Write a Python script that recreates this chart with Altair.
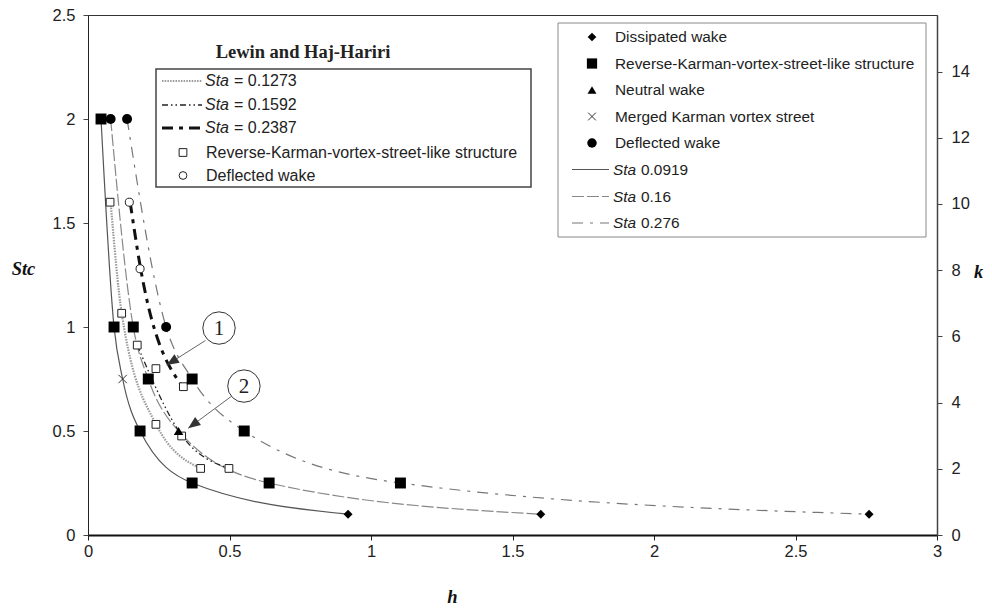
import math
import altair as alt
import pandas as pd

# ------------------------------------------------------------------ data
# Present study (filled markers): h, Stc
diss_h = [0.919, 1.600, 2.760]
diss_stc = [0.10, 0.10, 0.10]
rev_h = [0.046, 0.092, 0.160, 0.184, 0.213, 0.368, 0.368, 0.552, 0.640, 1.104]
rev_stc = [2.00, 1.00, 1.00, 0.50, 0.75, 0.25, 0.75, 0.50, 0.25, 0.25]
neu_h = [0.320]
neu_stc = [0.50]
mer_h = [0.1225]
mer_stc = [0.75]
dfl_h = [0.080, 0.138, 0.276]
dfl_stc = [2.00, 2.00, 1.00]

# Present study curves
sta1_h = [0.046, 0.092, 0.1225, 0.184, 0.368, 0.919]
sta1_stc = [2.00, 1.00, 0.75, 0.50, 0.25, 0.10]
sta2_h = [0.080, 0.160, 0.213, 0.320, 0.640, 1.600]
sta2_stc = [2.00, 1.00, 0.75, 0.50, 0.25, 0.10]
sta3_h = [0.138, 0.276, 0.368, 0.552, 1.104, 2.760]
sta3_stc = [2.00, 1.00, 0.75, 0.50, 0.25, 0.10]

# Lewin and Haj-Hariri
lw1_h = [0.080, 0.119, 0.240, 0.398]
lw1_stc = [1.60, 1.067, 0.533, 0.32]
lw2_h = [0.174, 0.331, 0.498]
lw2_stc = [0.913, 0.48, 0.32]
lw3_h = [0.149, 0.186, 0.336]
lw3_stc = [1.60, 1.28, 0.71]
lwsq_h = [0.078, 0.119, 0.174, 0.240, 0.337, 0.240, 0.331, 0.398, 0.498]
lwsq_stc = [1.60, 1.066, 0.913, 0.80, 0.713, 0.532, 0.476, 0.32, 0.32]
lwci_h = [0.146, 0.184]
lwci_stc = [1.60, 1.28]

# annotations
ann_label = ["1", "2"]
ann_h = [0.463, 0.551]
ann_stc = [0.995, 0.716]
arr_h0 = [0.415, 0.505]
arr_stc0 = [0.935, 0.665]
arr_h1 = [0.278, 0.354]
arr_stc1 = [0.817, 0.513]

# axes
x_ticks = [0, 0.5, 1, 1.5, 2, 2.5, 3]
y_ticks = [0, 0.5, 1, 1.5, 2, 2.5]
k_ticks = [0, 2, 4, 6, 8, 10, 12, 14]

# ------------------------------------------------------------------ layout
PL, PT, PR, PB = 88, 15, 55, 74
W, H = 992 - PL - PR, 609 - PT - PB
XMAX, YMAX = 3.0, 2.5
SANS = "Liberation Sans"
SERIF = "Liberation Serif"
TICKFS = 16.5
TITLEFS = 18.5

xscale = alt.Scale(domain=[0, XMAX], nice=False, zero=False)
yscale = alt.Scale(domain=[0, YMAX], nice=False, zero=False)


def X():
    return alt.X(
        "h:Q", scale=xscale,
        axis=alt.Axis(values=x_ticks, format="~g", grid=False, title="h",
                      titleFont=SERIF, titleFontStyle="italic", titleFontWeight="bold",
                      titleFontSize=TITLEFS, titleX=452 - PL, titleY=596 - (PT + H),
                      titleAlign="center", titleBaseline="middle", titleColor="#111",
                      labelFont=SANS, labelFontSize=TICKFS, labelColor="#222",
                      labelPadding=3, labelFlush=False, tickSize=5, tickColor="#222",
                      domainColor="#111", domainWidth=2),
    )


def Y():
    return alt.Y(
        "stc:Q", scale=yscale,
        axis=alt.Axis(values=y_ticks, format="~g", grid=False, title="Stc",
                      titleFont=SERIF, titleFontStyle="italic", titleFontWeight="bold",
                      titleFontSize=TITLEFS, titleAngle=0, titleX=23 - PL, titleY=268 - PT,
                      titleAlign="center", titleBaseline="middle", titleColor="#111",
                      labelFont=SANS, labelFontSize=TICKFS, labelColor="#222",
                      labelPadding=8, labelFlush=False, tickSize=5, tickColor="#444",
                      domainColor="#222", domainWidth=1),
    )


def df(h, s):
    return pd.DataFrame({"h": h, "stc": s})


def line(h, s, color, width, dash=None):
    kw = dict(color=color, strokeWidth=width, interpolate="monotone")
    if dash:
        kw["strokeDash"] = dash
    return alt.Chart(df(h, s)).mark_line(**kw).encode(x=X(), y=Y())


def pts(h, s, **kw):
    return alt.Chart(df(h, s)).mark_point(opacity=1, **kw).encode(x=X(), y=Y())


XSHAPE = "M-1,-1L1,1M-1,1L1,-1"
ARROW = "M0,0L-0.4,1L0.4,1Z"

DASH_016 = [12, 3]
DASH_0276 = [11, 7, 3, 7]
DASH_1273 = [1.5, 1.2]
DASH_1592 = [6, 3, 1.5, 3, 1.5, 3]
DASH_2387 = [11, 6, 4, 6]

layers = [
    line(sta1_h, sta1_stc, "#555", 1.2),
    line(sta2_h, sta2_stc, "#888", 1.2, DASH_016),
    line(sta3_h, sta3_stc, "#777", 1.2, DASH_0276),
    line(lw1_h, lw1_stc, "#999", 2.2, DASH_1273),
    line(lw2_h, lw2_stc, "#222", 1.3, DASH_1592),
    line(lw3_h, lw3_stc, "#111", 3, DASH_2387),
    pts(lwsq_h, lwsq_stc, shape="square", filled=True, fill="white", stroke="#222",
        strokeWidth=1, size=60),
    pts(lwci_h, lwci_stc, shape="circle", filled=True, fill="white", stroke="#222",
        strokeWidth=1, size=65),
    pts(diss_h, diss_stc, shape="diamond", filled=True, color="black", size=80),
    pts(rev_h, rev_stc, shape="square", filled=True, color="black", size=120),
    pts(neu_h, neu_stc, shape="triangle-up", filled=True, color="black", size=90),
    pts(mer_h, mer_stc, shape=XSHAPE, filled=False, color="#333", strokeWidth=1, size=70),
    pts(dfl_h, dfl_stc, shape="circle", filled=True, color="black", size=100),
]

# ---- annotations (numbered circles with arrows)
ann = pd.DataFrame({"h": ann_h, "stc": ann_stc, "t": ann_label})
layers.append(alt.Chart(ann).mark_point(shape="circle", filled=True, fill="white",
                                        stroke="#333", strokeWidth=1, size=1050,
                                        opacity=1).encode(x=X(), y=Y()))
layers.append(alt.Chart(ann).mark_text(font=SERIF, fontSize=21, color="#222",
                                       baseline="middle", align="center", dy=1)
              .encode(x=X(), y=Y(), text="t:N"))
pxh, pxs = W / XMAX, H / YMAX
arr = pd.DataFrame({"h": arr_h0, "stc": arr_stc0, "h2": arr_h1, "stc2": arr_stc1})
layers.append(alt.Chart(arr).mark_rule(color="#666", strokeWidth=1)
              .encode(x=X(), y=Y(), x2="h2:Q", y2="stc2:Q"))
for a in range(len(arr_h0)):
    dx = (arr_h1[a] - arr_h0[a]) * pxh
    dy = -(arr_stc1[a] - arr_stc0[a]) * pxs
    ang = math.degrees(math.atan2(dx, -dy)) % 360
    head = pd.DataFrame({"h": [arr_h1[a]], "stc": [arr_stc1[a]]})
    layers.append(alt.Chart(head).mark_point(shape=ARROW, filled=True, color="#333",
                                             angle=ang, size=600, opacity=1)
                  .encode(x=X(), y=Y()))

# ---- manual legends (absolute page pixel positions)
ONE = alt.Data(values=[{}])


def vx(x):
    return alt.value(x - PL)


def vy(y):
    return alt.value(y - PT)


def txt(x, y, s, size=15.4, style="normal", weight="normal", font=SANS, align="left"):
    return alt.Chart(ONE).mark_text(text=s, font=font, fontSize=size, fontStyle=style,
                                    fontWeight=weight, align=align, baseline="middle",
                                    color="#222").encode(x=vx(x), y=vy(y))


def box(x0, y0, x1, y1, stroke, width):
    return alt.Chart(ONE).mark_rect(fill="white", stroke=stroke, strokeWidth=width).encode(
        x=vx(x0), x2=vx(x1), y=vy(y0), y2=vy(y1))


def sym(x, y, **kw):
    return alt.Chart(ONE).mark_point(opacity=1, **kw).encode(x=vx(x), y=vy(y))


def sample(x0, x1, y, color, width, dash=None):
    kw = dict(color=color, strokeWidth=width)
    if dash:
        kw["strokeDash"] = dash
    return alt.Chart(ONE).mark_rule(**kw).encode(x=vx(x0), x2=vx(x1), y=vy(y))


# left legend: Lewin and Haj-Hariri
LFS = 16
layers.append(txt(303, 52, "Lewin and Haj-Hariri", size=18.5, weight="bold", font=SERIF,
                  align="center"))
layers.append(box(156, 69, 531, 187, "#444", 1.5))
ly = [81, 105, 128, 152.5, 175.5]
l_samples = [("#999", 2.2, DASH_1273), ("#222", 1.3, DASH_1592), ("#111", 3, DASH_2387)]
l_values = ["0.1273", "0.1592", "0.2387"]
for i in range(3):
    c, w, d = l_samples[i]
    layers.append(sample(162, 202, ly[i], c, w, d))
    layers.append(txt(205, ly[i], "Sta", size=LFS, style="italic"))
    layers.append(txt(234, ly[i], "= " + l_values[i], size=LFS))
layers.append(sym(183, ly[3], shape="square", filled=True, fill="white", stroke="#222",
                  strokeWidth=1, size=60))
layers.append(txt(206, ly[3], "Reverse-Karman-vortex-street-like structure", size=LFS))
layers.append(sym(183, ly[4], shape="circle", filled=True, fill="white", stroke="#222",
                  strokeWidth=1, size=60))
layers.append(txt(206, ly[4], "Deflected wake", size=LFS))

# right legend: present study
layers.append(box(558, 23, 926, 237, "#888", 1))
ry = [37, 63.5, 90, 116.5, 143, 169.5, 196.5, 223]
r_marks = [
    ("Dissipated wake", dict(shape="diamond", filled=True, color="black", size=75)),
    ("Reverse-Karman-vortex-street-like structure",
     dict(shape="square", filled=True, color="black", size=105)),
    ("Neutral wake", dict(shape="triangle-up", filled=True, color="black", size=80)),
    ("Merged Karman vortex street",
     dict(shape=XSHAPE, filled=False, color="#333", strokeWidth=1, size=60)),
    ("Deflected wake", dict(shape="circle", filled=True, color="black", size=90)),
]
for i, (lab, kw) in enumerate(r_marks):
    layers.append(sym(592, ry[i], **kw))
    layers.append(txt(615, ry[i], lab))
r_samples = [("#555", 1.2, None), ("#888", 1.2, DASH_016), ("#777", 1.2, DASH_0276)]
r_values = ["0.0919", "0.16", "0.276"]
for j in range(3):
    c, w, d = r_samples[j]
    layers.append(sample(572, 609, ry[5 + j], c, w, d))
    layers.append(txt(613, ry[5 + j], "Sta", style="italic"))
    layers.append(txt(641, ry[5 + j], r_values[j]))

left = alt.layer(*layers)

right = alt.Chart(pd.DataFrame({"k": k_ticks})).mark_point(opacity=0).encode(
    y=alt.Y("k:Q", scale=alt.Scale(domain=[0, 2 * math.pi * YMAX], nice=False, zero=False),
            axis=alt.Axis(orient="right", values=k_ticks, grid=False, title="k",
                          titleFont=SERIF, titleFontStyle="italic", titleFontWeight="bold",
                          titleFontSize=TITLEFS, titleAngle=0, titleX=978 - (PL + W),
                          titleY=271 - PT, titleAlign="center", titleBaseline="middle",
                          titleColor="#111", labelFont=SANS, labelFontSize=TICKFS,
                          labelColor="#222", labelPadding=9, labelFlush=False,
                          tickSize=5, tickColor="#444", domainColor="#444",
                          domainWidth=1.5))
)

chart = (
    alt.layer(left, right)
    .resolve_scale(y="independent")
    .properties(width=W, height=H, autosize=alt.AutoSizeParams(type="none"),
                padding={"left": PL, "top": PT, "right": PR, "bottom": PB},
                background="white")
    .configure_view(stroke="#333", strokeWidth=1)
)

chart.save("out.html", embed_options={"renderer": "svg", "actions": False})
